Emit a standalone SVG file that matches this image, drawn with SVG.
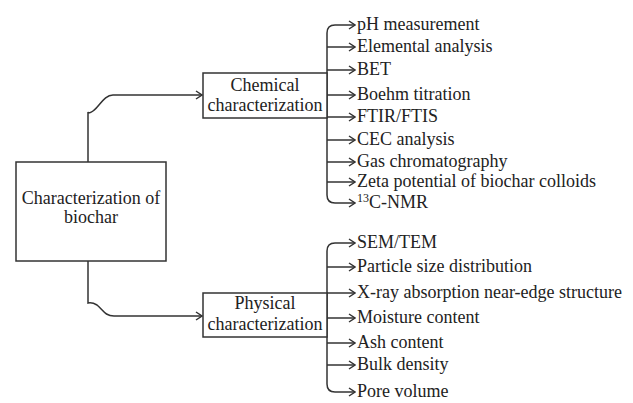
<svg xmlns="http://www.w3.org/2000/svg" width="633" height="403" viewBox="0 0 633 403" font-family="'Liberation Serif', 'DejaVu Serif', serif">
<defs>
<style>
.box{fill:#fff;stroke:#333;stroke-width:1.5}
.ar{fill:none;stroke:#333;stroke-width:1.5;marker-end:url(#chev)}
.t{font-family:'Liberation Serif','DejaVu Serif',serif;font-size:18px;fill:#222}
.c{text-anchor:middle}
</style>
<marker id="chev" viewBox="0 0 10 10" refX="9" refY="5" markerWidth="10" markerHeight="10" markerUnits="userSpaceOnUse" orient="auto">
<path d="M3,1 L9,5 L3,9" fill="none" stroke="#333" stroke-width="1.5"/>
</marker>
</defs>
<rect width="633" height="403" fill="#fff"/>
<g id="connectors">
<path class="ar" d="M88,162 V112 Q89,114 93,111 C100,106 104,95 113,95 H202"/>
<path class="ar" d="M88,261 V303 Q92,302 97,305 C103,310 105,316 114,316 H202"/>
<path class="ar" d="M327,118 V33 Q327,25 335,25 H355"/>
<path class="ar" d="M327,47 H355"/>
<path class="ar" d="M327,70 H355"/>
<path class="ar" d="M327,95 H355"/>
<path class="ar" d="M327,117 H355"/>
<path class="ar" d="M327,140 H355"/>
<path class="ar" d="M327,162 H355"/>
<path class="ar" d="M327,182 H355"/>
<path class="ar" d="M327,118 V195 Q327,203 335,203 H355"/>
<path class="ar" d="M327,337 V251 Q327,243 335,243 H355"/>
<path class="ar" d="M327,267 H355"/>
<path class="ar" d="M327,293 H355"/>
<path class="ar" d="M327,318 H355"/>
<path class="ar" d="M327,343 H355"/>
<path class="ar" d="M327,365 H355"/>
<path class="ar" d="M327,337 V384 Q327,392 335,392 H355"/>
</g>
<g id="root" class="t">
<rect class="box" x="16" y="162" width="150" height="99"/>
<text class="c" x="91" y="204">Characterization of</text>
<text class="c" x="91" y="223">biochar</text>
</g>
<g id="chemical" class="t">
<rect class="box" x="203" y="73" width="124" height="45"/>
<text class="c" x="265" y="91">Chemical</text>
<text class="c" x="265" y="111">characterization</text>
</g>
<g id="physical" class="t">
<rect class="box" x="203" y="293" width="124" height="44"/>
<text class="c" x="265" y="309">Physical</text>
<text class="c" x="265" y="330">characterization</text>
</g>
<g id="chem-items" class="t">
<text x="357" y="30">pH measurement</text>
<text x="357" y="52">Elemental analysis</text>
<text x="357" y="75">BET</text>
<text x="357" y="100">Boehm titration</text>
<text x="357" y="122">FTIR/FTIS</text>
<text x="357" y="145">CEC analysis</text>
<text x="357" y="167">Gas chromatography</text>
<text x="357" y="187">Zeta potential of biochar colloids</text>
<text x="357" y="208"><tspan font-size="12" dy="-6">13</tspan><tspan dy="6">C-NMR</tspan></text>
</g>
<g id="phys-items" class="t">
<text x="357" y="248">SEM/TEM</text>
<text x="357" y="272">Particle size distribution</text>
<text x="357" y="298">X-ray absorption near-edge structure</text>
<text x="357" y="323">Moisture content</text>
<text x="357" y="348">Ash content</text>
<text x="357" y="370">Bulk density</text>
<text x="357" y="397">Pore volume</text>
</g>
</svg>
